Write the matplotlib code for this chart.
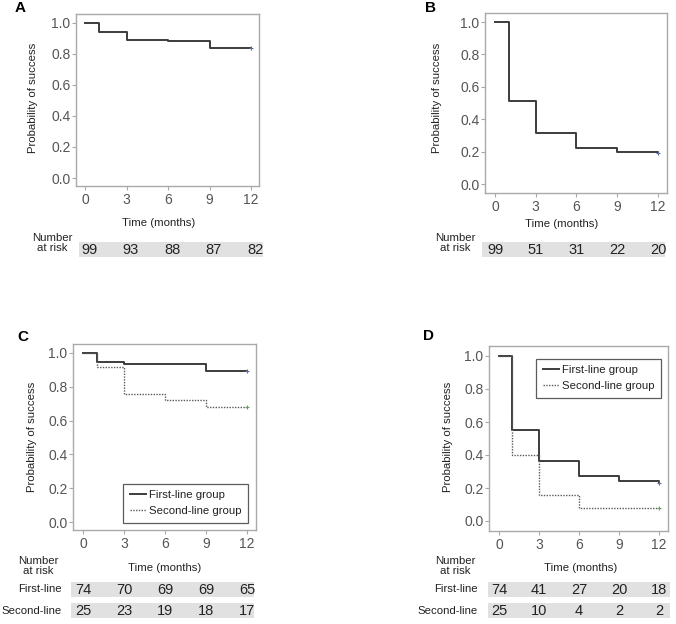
import matplotlib
matplotlib.use("Agg")
import matplotlib.pyplot as plt
from matplotlib.patches import Rectangle

plt.rcParams['font.family'] = ['Liberation Sans', 'DejaVu Sans']

# ---- data ----
step_times = [0, 1, 3, 6, 9, 12]
ticks_x = [0, 3, 6, 9, 12]
ticks_y = [0.0, 0.2, 0.4, 0.6, 0.8, 1.0]

surv_A = [1.0, 0.94, 0.89, 0.88, 0.84, 0.84]
surv_B = [1.0, 0.515, 0.313, 0.225, 0.20, 0.19]
surv_C_first = [1.0, 0.948, 0.933, 0.933, 0.891, 0.891]
surv_C_second = [1.0, 0.92, 0.76, 0.72, 0.68, 0.68]
surv_D_first = [1.0, 0.554, 0.365, 0.27, 0.243, 0.23]
surv_D_second = [1.0, 0.40, 0.16, 0.08, 0.08, 0.08]

risk_A = [99, 93, 88, 87, 82]
risk_B = [99, 51, 31, 22, 20]
risk_C_first = [74, 70, 69, 69, 65]
risk_C_second = [25, 23, 19, 18, 17]
risk_D_first = [74, 41, 27, 20, 18]
risk_D_second = [25, 10, 4, 2, 2]

legend_labels = ["First-line group", "Second-line group"]
row_labels = ["First-line", "Second-line"]

W, H = 676, 624
fig = plt.figure(figsize=(W / 100, H / 100), dpi=100)

LINE = '#3c3c3c'
FRAME = '#a9a9a9'
TICKC = '#555555'
SHADE = '#e1e1e1'
TXT = '#222222'
LABFS = 8.2


def px_axes(l, t, r, b):
    return fig.add_axes([l / W, 1 - b / H, (r - l) / W, (b - t) / H])


def main_axes(l, t, r, b, x0px, x12px, y1px, y0px):
    ax = px_axes(l, t, r, b)
    sx = 12.0 / (x12px - x0px)
    sy = 1.0 / (y0px - y1px)
    ax.set_xlim((l - x0px) * sx, 12 + (r - x12px) * sx)
    ax.set_ylim(-(b - y0px) * sy, 1 + (y1px - t) * sy)
    ax.set_xticks(ticks_x)
    ax.set_yticks(ticks_y)
    ax.set_yticklabels([f"{v:.1f}" for v in ticks_y])
    for s in ax.spines.values():
        s.set_color(FRAME)
        s.set_linewidth(1.0)
    ax.tick_params(direction='out', length=3, width=0.8, color=FRAME,
                   labelcolor=TICKC, labelsize=10, pad=1)
    ax.tick_params(axis='x', pad=2)
    return ax, (x0px, sx)


def risk_row(xmap, l, t, r, b, values, off=0.0):
    x0px, sx = xmap
    ax = px_axes(l, t, r, b)
    ax.set_xlim((l - x0px) * sx, (r - x0px) * sx)
    ax.set_ylim(0, 1)
    ax.axis('off')
    ax.add_patch(Rectangle((0, 0), 1, 1, transform=ax.transAxes,
                           facecolor=SHADE, edgecolor='none'))
    for tx, v in zip(ticks_x, values):
        ax.text(tx + off, 0.45, str(v), ha='center', va='center',
                fontsize=10.5, color=TXT)
    return ax


def ftext(x, y, s, **kw):
    fig.text(x / W, 1 - y / H, s, **kw)


def km(ax, surv, ls='-', color=LINE, lw=1.4, mcolor='#5a6aa8'):
    line, = ax.step(step_times, surv, where='post', color=color, lw=lw, ls=ls)
    ax.plot([step_times[-1]], [surv[-1]], marker='+', ms=3, mew=0.8,
            color=mcolor, ls='none')
    return line


def add_legend(ax, handles, loc, anchor):
    leg = ax.legend(handles, legend_labels, loc=loc, bbox_to_anchor=anchor,
                    fontsize=8.2, frameon=True, fancybox=False,
                    handlelength=1.4, handletextpad=0.3, borderpad=0.55,
                    labelspacing=0.55, borderaxespad=0)
    leg.get_frame().set_edgecolor('#333333')
    leg.get_frame().set_linewidth(0.9)
    for t in leg.get_texts():
        t.set_color(TXT)


lab_kw = dict(fontsize=LABFS, color=TXT, ha='center', va='center')
nar_kw = dict(fontsize=LABFS, color=TXT, ha='center', va='center',
              linespacing=1.05)
row_kw = dict(fontsize=LABFS, color=TXT, ha='right', va='center')
pan_kw = dict(fontsize=11, fontweight='bold', ha='center', va='center')

# ---- Panel A ----
axA, mA = main_axes(76, 14, 259, 186, 85, 251, 22.7, 178)
km(axA, surv_A)
ftext(20, 8, 'A', **pan_kw)
ftext(33, 98, 'Probability of success', rotation=90, **lab_kw)
ftext(159, 223, 'Time (months)', **lab_kw)
ftext(52, 243, 'Number\nat risk', **nar_kw)
risk_row(mA, 79, 242, 263, 257, risk_A, off=0.3)

# ---- Panel B ----
axB, mB = main_axes(485, 13, 667, 193, 495, 658, 22, 184)
km(axB, surv_B)
ftext(431, 8, 'B', **pan_kw)
ftext(437, 98, 'Probability of success', rotation=90, **lab_kw)
ftext(562, 224, 'Time (months)', **lab_kw)
ftext(455, 243, 'Number\nat risk', **nar_kw)
risk_row(mB, 482, 242, 665, 257, risk_B)

# ---- Panel C ----
axC, mC = main_axes(73, 344, 256, 530, 83, 247, 353, 522)
h1 = km(axC, surv_C_first)
h2 = km(axC, surv_C_second, ls=(0, (1, 1)), color='#5a5a5a', lw=1.0,
        mcolor='#6a9a6a')
add_legend(axC, [h1, h2], 'lower right', (0.955, 0.04))
ftext(23, 337, 'C', **pan_kw)
ftext(32, 437, 'Probability of success', rotation=90, **lab_kw)
ftext(165, 568, 'Time (months)', **lab_kw)
ftext(38, 566, 'Number\nat risk', **nar_kw)
risk_row(mC, 71, 582, 254, 597, risk_C_first)
risk_row(mC, 71, 603, 254, 618, risk_C_second)
ftext(62, 589.5, row_labels[0], **row_kw)
ftext(62, 610.5, row_labels[1], **row_kw)

# ---- Panel D ----
axD, mD = main_axes(489, 346, 668, 531, 499, 659, 356, 521)
h1 = km(axD, surv_D_first)
h2 = km(axD, surv_D_second, ls=(0, (1, 1)), color='#5a5a5a', lw=1.0,
        mcolor='#6a9a6a')
add_legend(axD, [h1, h2], 'upper right', (0.96, 0.93))
ftext(428, 336, 'D', **pan_kw)
ftext(448, 437, 'Probability of success', rotation=90, **lab_kw)
ftext(581, 568, 'Time (months)', **lab_kw)
ftext(455, 566, 'Number\nat risk', **nar_kw)
risk_row(mD, 488, 582, 670, 597, risk_D_first)
risk_row(mD, 488, 603, 670, 618, risk_D_second)
ftext(478, 589.5, row_labels[0], **row_kw)
ftext(478, 610.5, row_labels[1], **row_kw)

fig.savefig('out.png', dpi=100)
